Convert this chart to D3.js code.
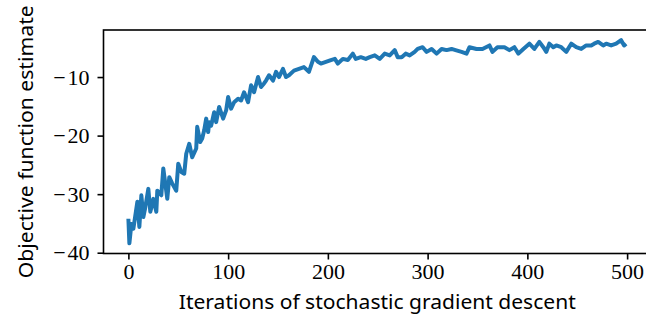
<html>

<head>
    <script src="https://d3js.org/d3.v7.min.js"></script>
    <style>
        body {
            margin: 0;
            background: white;
        }
    </style>
</head>

<body>
    <div id="graph-container"></div>

    <script>
        //////////////////////////////////////////DATA//////////////////////////////////////////
        // iterations where the curve was read off the picture
        const iterations = [
            0, 1, 3, 5, 9, 11, 13, 15, 17, 20, 22, 25, 28, 29, 33, 35, 39, 41, 44, 48,
            50, 53, 56, 58, 61, 64, 68, 69, 72, 74, 76, 78, 80, 81, 83, 86, 88, 91, 95, 98,
            100, 103, 106, 110, 113, 116, 120, 123, 126, 130, 133, 136, 138, 141, 145, 148, 151, 155, 158, 161,
            166, 171, 176, 181, 186, 190, 193, 198, 203, 207, 210, 215, 220, 225, 228, 233, 238, 242, 247, 252,
            257, 262, 267, 270, 274, 278, 282, 287, 290, 295, 299, 304, 309, 314, 319, 324, 328, 334, 339, 342,
            349, 355, 362, 365, 370, 377, 382, 387, 391, 396, 402, 407, 412, 416, 419, 422, 426, 429, 434, 439,
            444, 449, 454, 459, 464, 467, 471, 476, 479, 484, 489, 494, 497, 499
        ];
        // objective function estimate at those iterations
        const objective = [
            -34.2, -38.4, -35.1, -35.9, -31.3, -35.6, -30.2, -33.9, -32.2, -29.1, -33.0, -30.8, -33.0, -29.4, -30.2, -25.6, -30.8, -27.1, -28.2, -29.4,
            -24.8, -26.2, -26.5, -23.1, -21.4, -23.7, -22.2, -18.5, -21.1, -20.5, -19.1, -17.1, -19.4, -17.7, -18.3, -16.0, -17.7, -15.1, -17.1, -15.7,
            -13.4, -15.4, -14.3, -13.7, -14.0, -12.6, -14.3, -11.4, -12.6, -10.0, -11.7, -11.1, -10.6, -9.7, -10.6, -9.1, -10.0, -8.6, -10.0, -9.7,
            -8.9, -8.6, -8.3, -9.1, -6.6, -7.4, -7.7, -7.4, -7.1, -6.9, -7.7, -6.9, -7.1, -6.0, -6.9, -6.6, -6.9, -6.6, -6.3, -6.9,
            -6.0, -6.3, -5.4, -6.6, -6.6, -6.0, -6.3, -5.7, -5.2, -4.9, -5.7, -5.2, -6.0, -5.2, -5.4, -5.2, -5.4, -5.7, -6.0, -4.9,
            -5.2, -5.2, -4.6, -5.7, -4.9, -4.9, -5.4, -4.9, -6.0, -5.2, -4.3, -5.2, -4.0, -4.9, -5.7, -4.3, -4.9, -4.6, -4.9, -5.7,
            -4.3, -4.9, -5.2, -4.6, -4.6, -4.3, -4.0, -4.6, -4.3, -4.6, -4.3, -3.7, -4.6, -4.3
        ];
        const xTicks = [0, 100, 200, 300, 400, 500];
        const yTicks = [-40, -30, -20, -10];

        //////////////////////////////////////////GRAPH VARIABLES//////////////////////////////////////////
        const width = 646;
        const height = 323;
        // axes box (right side runs past the window, as in the picture)
        const box = { left: 103.5, right: 651, top: 30, bottom: 253.5 };

        const points = iterations.map((it, i) => ({ x: it, y: objective[i] }));

        // 5% padding on each side, like matplotlib
        const pad = (ext) => {
            const m = (ext[1] - ext[0]) * 0.05;
            return [ext[0] - m, ext[1] + m];
        };

        const x = d3.scaleLinear()
            .domain(pad(d3.extent(iterations)))
            .range([box.left, box.right]);
        const y = d3.scaleLinear()
            .domain(pad(d3.extent(objective)))
            .range([box.bottom, box.top]);

        const svg = d3.select("#graph-container").append("svg")
            .attr("width", width)
            .attr("height", height);

        //////////////////////////////////////////LINE//////////////////////////////////////////
        const line = d3.line()
            .x(d => x(d.x))
            .y(d => y(d.y));

        svg.append("path")
            .datum(points)
            .attr("d", line)
            .attr("fill", "none")
            .attr("stroke", "#1f77b4")
            .attr("stroke-width", 4)
            .attr("stroke-linejoin", "round");

        //////////////////////////////////////////AXES//////////////////////////////////////////
        // wider minus like the LaTeX one
        const minus = (v) => (v < 0 ? "\u2212\u200A" + Math.abs(v) : String(v));

        const xAxis = svg.append("g")
            .attr("transform", "translate(0," + box.bottom + ")")
            .call(d3.axisBottom(x).tickValues(xTicks).tickFormat(minus).tickSize(6).tickPadding(4));
        const yAxis = svg.append("g")
            .attr("transform", "translate(" + box.left + ",0)")
            .call(d3.axisLeft(y).tickValues(yTicks).tickFormat(minus).tickSize(6).tickPadding(8));

        [xAxis, yAxis].forEach(a => {
            a.attr("font-family", "Liberation Serif, serif").attr("font-size", 22);
            a.select(".domain").remove();
            a.selectAll(".tick line").attr("stroke", "black").attr("stroke-width", 1.6);
            a.selectAll(".tick text").attr("fill", "black");
        });

        // spines
        svg.append("rect")
            .attr("x", box.left)
            .attr("y", box.top)
            .attr("width", box.right - box.left)
            .attr("height", box.bottom - box.top)
            .attr("fill", "none")
            .attr("stroke", "black")
            .attr("stroke-width", 1.6);

        //////////////////////////////////////////LABELS//////////////////////////////////////////
        svg.append("text")
            .attr("x", (box.left + box.right) / 2)
            .attr("y", 309)
            .attr("font-family", "Noto Sans, sans-serif")
            .attr("font-size", 19)
            .attr("text-anchor", "middle")
            .attr("textLength", 397)
            .attr("lengthAdjust", "spacingAndGlyphs")
            .text("Iterations of stochastic gradient descent");

        svg.append("text")
            .attr("transform", "translate(33," + (box.top + box.bottom) / 2 + ") rotate(-90)")
            .attr("font-family", "Noto Sans, sans-serif")
            .attr("font-size", 19)
            .attr("text-anchor", "middle")
            .attr("textLength", 273)
            .attr("lengthAdjust", "spacingAndGlyphs")
            .text("Objective function estimate");
    </script>
</body>

</html>
